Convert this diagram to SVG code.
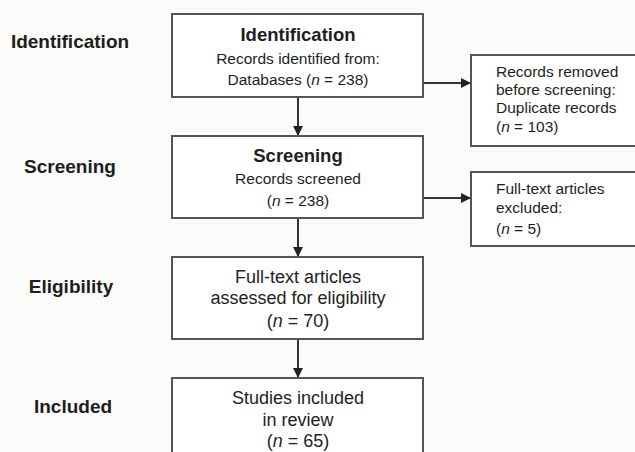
<svg xmlns="http://www.w3.org/2000/svg" width="635" height="452" viewBox="0 0 635 452">
<style>
text{font-family:"Liberation Sans",Arial,sans-serif;fill:#1e1e1e}
.stage{font-size:19px;font-weight:bold;text-anchor:middle}
.title{font-size:18.5px;font-weight:bold;text-anchor:middle}
.mid{font-size:15.5px;text-anchor:middle}
.big{font-size:18px;text-anchor:middle}
.side{font-size:15.5px}
.box{fill:#ffffff;stroke:#555;stroke-width:2}
.conn{stroke:#333;stroke-width:2;fill:none}
</style>
<defs>
<marker id="ah" viewBox="0 0 10 10" refX="10" refY="5" markerWidth="10" markerHeight="10" markerUnits="userSpaceOnUse" orient="auto">
<path d="M0,0 L10,5 L0,10 Z" fill="#222"/>
</marker>
</defs>
<rect width="635" height="452" fill="#fbfbfa"/>
<g id="stages">
<text class="stage" x="70" y="48">Identification</text>
<text class="stage" x="70" y="173">Screening</text>
<text class="stage" x="71" y="293">Eligibility</text>
<text class="stage" x="73" y="413">Included</text>
</g>
<g id="connectors">
<line class="conn" x1="298" y1="97" x2="298" y2="136" marker-end="url(#ah)"/>
<line class="conn" x1="298" y1="218" x2="298" y2="257" marker-end="url(#ah)"/>
<line class="conn" x1="298" y1="339" x2="298" y2="378" marker-end="url(#ah)"/>
<line class="conn" x1="423" y1="83" x2="471" y2="83" marker-end="url(#ah)"/>
<line class="conn" x1="423" y1="198" x2="471" y2="198" marker-end="url(#ah)"/>
</g>
<g id="identification">
<rect class="box" x="172" y="14" width="251" height="83"/>
<text class="title" x="298" y="41">Identification</text>
<text class="mid" x="298" y="64">Records identified from:</text>
<text class="mid" x="298" y="85">Databases (<tspan font-style="italic">n</tspan> = 238)</text>
</g>
<g id="removed">
<rect class="box" x="471" y="55" width="175" height="91"/>
<text class="side" x="496" y="77">Records removed</text>
<text class="side" x="496" y="95">before screening:</text>
<text class="side" x="496" y="113">Duplicate records</text>
<text class="side" x="496" y="132">(<tspan font-style="italic">n</tspan> = 103)</text>
</g>
<g id="screening">
<rect class="box" x="172" y="136" width="251" height="82"/>
<text class="title" x="298" y="162">Screening</text>
<text class="mid" x="298" y="184">Records screened</text>
<text class="mid" x="298" y="206">(<tspan font-style="italic">n</tspan> = 238)</text>
</g>
<g id="excluded">
<rect class="box" x="471" y="172" width="175" height="74"/>
<text class="side" x="496" y="194">Full-text articles</text>
<text class="side" x="496" y="213">excluded:</text>
<text class="side" x="496" y="234">(<tspan font-style="italic">n</tspan> = 5)</text>
</g>
<g id="eligibility">
<rect class="box" x="172" y="257" width="251" height="82"/>
<text class="big" x="298" y="283">Full-text articles</text>
<text class="big" x="298" y="304">assessed for eligibility</text>
<text class="big" x="298" y="327">(<tspan font-style="italic">n</tspan> = 70)</text>
</g>
<g id="included">
<rect class="box" x="172" y="378" width="251" height="84"/>
<text class="big" x="298" y="404">Studies included</text>
<text class="big" x="298" y="426">in review</text>
<text class="big" x="298" y="447">(<tspan font-style="italic">n</tspan> = 65)</text>
</g>
</svg>
